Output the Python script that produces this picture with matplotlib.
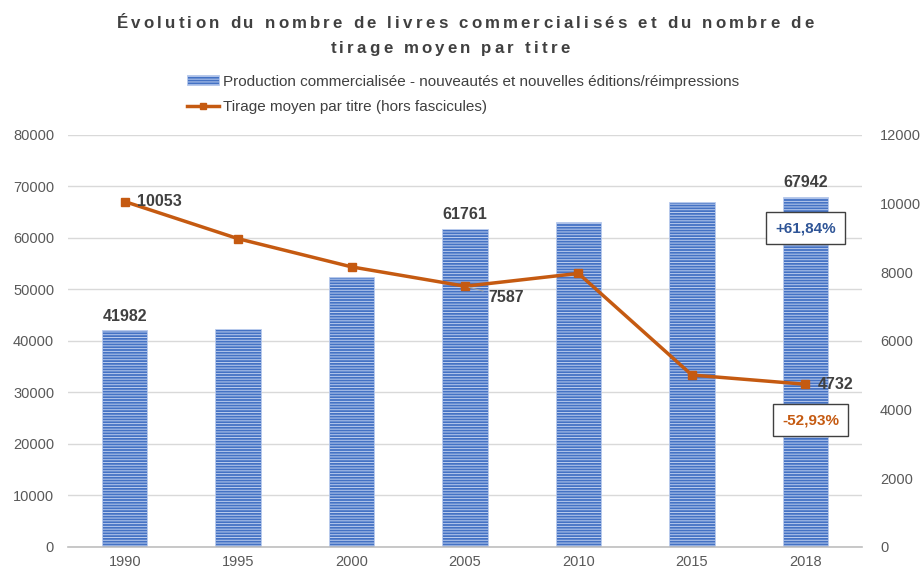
import matplotlib
matplotlib.use("Agg")
import matplotlib.pyplot as plt
import numpy as np
from matplotlib.patches import Patch
from matplotlib.lines import Line2D
from matplotlib.font_manager import FontProperties

years = ["1990", "1995", "2000", "2005", "2010", "2015", "2018"]
production = [41982, 42200, 52300, 61761, 63000, 67000, 67942]
tirage = [10053, 8970, 8150, 7587, 7960, 5000, 4732]
prod_labels = {0: "41982", 3: "61761", 6: "67942"}
tirage_labels = {0: "10053", 3: "7587", 6: "4732"}
left_ticks = [0, 10000, 20000, 30000, 40000, 50000, 60000, 70000, 80000]
right_ticks = [0, 2000, 4000, 6000, 8000, 10000, 12000]
title_lines = ["Évolution du nombre de livres commercialisés et du nombre de",
               "tirage moyen par titre"]
bar_name = "Production commercialisée - nouveautés et nouvelles éditions/réimpressions"
line_name = "Tirage moyen par titre (hors fascicules)"

plt.rcParams['font.family'] = ['Liberation Sans', 'DejaVu Sans']
plt.rcParams['hatch.linewidth'] = 0.7

BLUE = "#4472C4"
STRIPE = "#BCCDEE"
ORANGE = "#C55A11"
GRAY = "#595959"
HATCH = "------"

fig = plt.figure(figsize=(9.22, 5.71), dpi=100)
ax = fig.add_axes([68/922, 1-546.7/571, (862-68)/922, (546.7-134.7)/571])
ax2 = ax.twinx()

x = np.arange(len(years))
ax.bar(x, production, width=0.4, color=BLUE, edgecolor=STRIPE,
       linewidth=0.6, hatch=HATCH, zorder=2)
ax.set_ylim(0, 80000)
ax.set_xlim(-0.5, len(years)-0.5)
ax.set_yticks(left_ticks)
ax.set_xticks(x)
ax.set_xticklabels(years)
ax.grid(axis="y", color="#D9D9D9", linewidth=1, zorder=0)
ax.set_axisbelow(True)
for s in ["top", "left", "right"]:
    ax.spines[s].set_visible(False)
ax.spines["bottom"].set_color("#BFBFBF")
ax.spines["bottom"].set_linewidth(1.2)
ax.tick_params(axis="both", length=0, labelsize=10.5, labelcolor=GRAY)
ax.tick_params(axis="y", pad=10)
ax.tick_params(axis="x", pad=6)

ax2.plot(x, tirage, color=ORANGE, linewidth=2.5, marker="s", markersize=6, zorder=3)
ax2.set_ylim(0, 12000)
ax2.set_yticks(right_ticks)
for s in ["top", "left", "right", "bottom"]:
    ax2.spines[s].set_visible(False)
ax2.tick_params(axis="y", length=0, labelsize=10.5, labelcolor=GRAY, pad=13)

LBL = dict(fontsize=11.5, fontweight="bold", color="#404040")
for i, lab in prod_labels.items():
    ax.annotate(lab, (x[i], production[i]), xytext=(0, 5), textcoords="offset points",
                ha="center", va="bottom", **LBL)

ax2.annotate(tirage_labels[0], (x[0], tirage[0]), xytext=(9, 0), textcoords="offset points",
             ha="left", va="center", **LBL)
ax2.annotate(tirage_labels[3], (x[3], tirage[3]), xytext=(17, -8), textcoords="offset points",
             ha="left", va="center",
             arrowprops=dict(arrowstyle="-", color="#A6A6A6", lw=0.8, shrinkA=2, shrinkB=3), **LBL)
ax2.annotate(tirage_labels[6], (x[6], tirage[6]), xytext=(9, 0), textcoords="offset points",
             ha="left", va="center", **LBL)

ax.text(x[6], 61880, "+61,84%", ha="center", va="center", fontsize=11, fontweight="bold",
        color="#2F5597", zorder=5,
        bbox=dict(boxstyle="square,pad=0.6", facecolor="white", edgecolor="#404040", linewidth=1))
ax2.text(x[6]+0.045, 3690, "-52,93%", ha="center", va="center", fontsize=11, fontweight="bold",
         color=ORANGE, zorder=5,
         bbox=dict(boxstyle="square,pad=0.6", facecolor="white", edgecolor="#404040", linewidth=1))

# Letter-spaced title
renderer = fig.canvas.get_renderer()
tprop = FontProperties(family="Liberation Sans", weight="bold", size=12.2)

def w(s):
    return renderer.get_text_width_height_descent(s, tprop, ismath=False)[0]

def char_widths(line):
    base = w("xx")
    return [w("x" + c + "x") - base for c in line]

cw1 = char_widths(title_lines[0])
target1 = 697.0
spacing = (target1 - sum(cw1)) / (len(cw1) - 1)
centers = [465.0, 450.0]
ys = [22.5, 47.0]
for line, cx, yc in zip(title_lines, centers, ys):
    cws = char_widths(line)
    total = sum(cws) + spacing * (len(cws) - 1)
    xpos = cx - total / 2
    for c, cwid in zip(line, cws):
        if c != " ":
            fig.text(xpos / 922, 1 - yc / 571, c, ha="left", va="center_baseline",
                     fontproperties=tprop, color="#404040")
        xpos += cwid + spacing

handles = [Patch(facecolor=BLUE, edgecolor=STRIPE, hatch=HATCH, linewidth=0.6),
           Line2D([0], [0], color=ORANGE, linewidth=2.5, marker="s", markersize=5)]
fig.legend(handles, [bar_name, line_name], loc="upper left",
           bbox_to_anchor=(179/922, 1-67/571), frameon=False, fontsize=11,
           labelcolor="#404040", handlelength=2.1, handletextpad=0.25, labelspacing=0.75,
           borderpad=0, handleheight=0.6)

fig.savefig("out.png", dpi=100, facecolor="white")
